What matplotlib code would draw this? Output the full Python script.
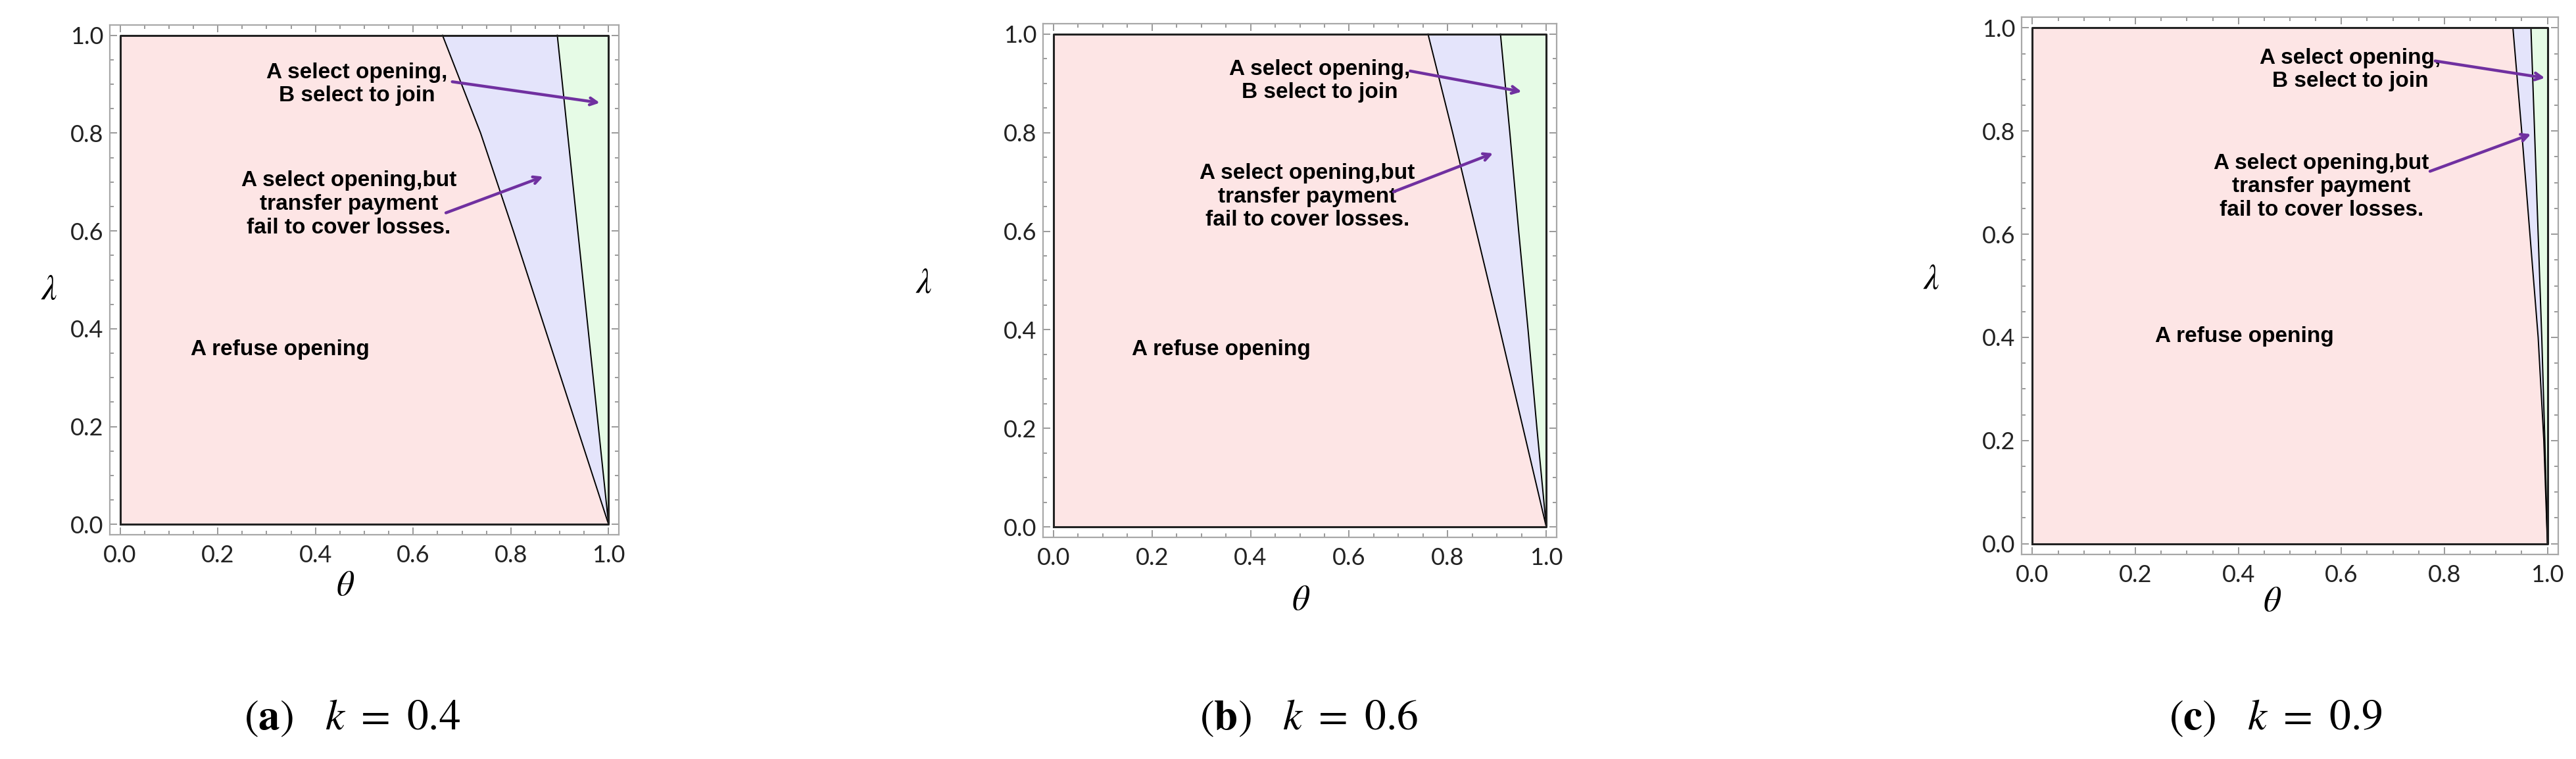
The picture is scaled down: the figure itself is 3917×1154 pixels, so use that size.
import matplotlib
matplotlib.use("Agg")
import matplotlib.pyplot as plt
from matplotlib.ticker import MultipleLocator

plt.rcParams["font.family"] = ["Lato", "DejaVu Sans"]
plt.rcParams["mathtext.fontset"] = "stix"

lam = [0.0, 0.2, 0.4, 0.6, 0.8, 1.0]

k_values = [0.4, 0.6, 0.9]
panel_letters = ["a", "b", "c"]

# theta of the boundary between "refuse" and "open, payment fails"
left_a = [1.0, 0.935, 0.870, 0.805, 0.738, 0.660]
left_b = [1.0, 0.953, 0.906, 0.858, 0.810, 0.760]
left_c = [1.0, 0.993, 0.982, 0.966, 0.950, 0.933]
# theta of the boundary between "open, payment fails" and "open, B joins"
right_a = [1.0, 0.979, 0.958, 0.937, 0.916, 0.895]
right_b = [1.0, 0.981, 0.963, 0.944, 0.926, 0.907]
right_c = [1.0, 0.995, 0.989, 0.982, 0.975, 0.968]

label_join = "A select opening,\nB select to join"
label_fail = "A select opening,but\ntransfer payment\nfail to cover losses."
label_refuse = "A refuse opening"

# layout (pixels of the 3917x1154 canvas) and annotation placement
W, H = 3917, 1154
frames = [(167, 38, 941, 813), (1586, 36, 2367, 817), (3074, 26, 3890, 843)]
lam_label_xy = [(75, 440), (1405, 430), (2937, 425)]
theta_label_xy = [(525, 890), (1978, 912), (3455, 915)]
caption_x = [535, 1990, 3460]
notes = [
    dict(join=(0.485, 0.90), a1=((0.68, 0.905), (0.982, 0.862)),
         fail=(0.468, 0.655), a2=((0.667, 0.637), (0.866, 0.711)),
         refuse=(0.327, 0.357)),
    dict(join=(0.54, 0.905), a1=((0.724, 0.925), (0.95, 0.883)),
         fail=(0.515, 0.67), a2=((0.69, 0.68), (0.892, 0.758)),
         refuse=(0.34, 0.36)),
    dict(join=(0.617, 0.919), a1=((0.782, 0.936), (0.995, 0.903)),
         fail=(0.561, 0.692), a2=((0.772, 0.722), (0.968, 0.794)),
         refuse=(0.412, 0.402)),
]

pink = "#fde5e5"
blue = "#e4e4fb"
green = "#e6fbe6"
purple = "#7030a0"
frame_gray = "#a8a8a8"

fig = plt.figure(figsize=(W / 100, H / 100), dpi=100)

lefts = [left_a, left_b, left_c]
rights = [right_a, right_b, right_c]

for i in range(3):
    x0, y0, x1, y1 = frames[i]
    ax = fig.add_axes([x0 / W, 1 - y1 / H, (x1 - x0) / W, (y1 - y0) / H])
    pad = 0.021

    L, R = lefts[i], rights[i]
    ax.fill_betweenx(lam, 0, L, color=pink, lw=0)
    ax.fill_betweenx(lam, L, R, color=blue, lw=0)
    ax.fill_betweenx(lam, R, 1, color=green, lw=0)
    ax.plot(L, lam, color="black", lw=1.4)
    ax.plot(R, lam, color="black", lw=1.4)
    ax.plot([0, 1, 1, 0, 0], [0, 0, 1, 1, 0], color="#222222", lw=2.2)

    for s in ax.spines.values():
        s.set_color(frame_gray)
        s.set_linewidth(1.6)
    ax.xaxis.set_major_locator(MultipleLocator(0.2))
    ax.yaxis.set_major_locator(MultipleLocator(0.2))
    ax.xaxis.set_minor_locator(MultipleLocator(0.05))
    ax.yaxis.set_minor_locator(MultipleLocator(0.05))
    ax.tick_params(which="both", direction="in", top=True, right=True,
                   color="#888888", width=1.2)
    ax.tick_params(which="major", length=8, labelsize=26, labelcolor="#222222")
    ax.tick_params(which="minor", length=4.5)
    ax.tick_params(axis="y", which="major", pad=7)
    ax.tick_params(axis="x", which="major", pad=11)
    ax.set_xlim(-pad, 1 + pad)
    ax.set_ylim(-pad, 1 + pad)
    ax.xaxis.set_major_formatter("{x:.1f}")
    ax.yaxis.set_major_formatter("{x:.1f}")

    n = notes[i]
    tkw = dict(ha="center", va="center", fontsize=24, fontweight="bold",
               family=["Liberation Sans", "DejaVu Sans"], color="black")
    ax.text(*n["join"], label_join, **tkw)
    ax.text(*n["fail"], label_fail, **tkw)
    ax.text(*n["refuse"], label_refuse, **tkw)
    aprops = dict(arrowstyle="->,head_length=0.75,head_width=0.38",
                  color=purple, lw=3.2, shrinkA=0, shrinkB=0)
    for key in ("a1", "a2"):
        start, end = n[key]
        ax.annotate("", xy=end, xytext=start, arrowprops=aprops)

    lx, ly = lam_label_xy[i]
    fig.text(lx / W, 1 - ly / H, r"$\lambda$", fontsize=38,
             ha="center", va="center")
    tx, ty = theta_label_xy[i]
    fig.text(tx / W, 1 - ty / H, r"$\theta$", fontsize=38,
             ha="center", va="center")
    fig.text(caption_x[i] / W, 1 - 1092 / H,
             r"$(\mathbf{" + panel_letters[i] + r"})\ \ \ k\ =\ "
             + f"{k_values[i]}" + r"$",
             fontsize=47, ha="center", va="center")

fig.savefig("out.png", dpi=100)
